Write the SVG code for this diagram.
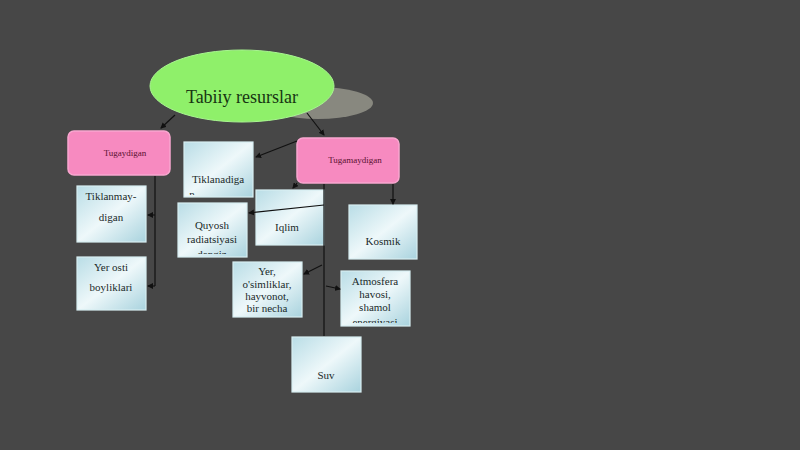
<svg xmlns="http://www.w3.org/2000/svg" width="800" height="450" viewBox="0 0 800 450">
<defs>
<linearGradient id="blue" x1="0" y1="0" x2="1" y2="1">
<stop offset="0" stop-color="#b9dde6"/>
<stop offset="0.5" stop-color="#eef8fa"/>
<stop offset="1" stop-color="#a9d3de"/>
</linearGradient>
<clipPath id="cq"><rect x="178" y="203" width="69" height="51"/></clipPath>
<clipPath id="ca"><rect x="341" y="271" width="69" height="52"/></clipPath>
<clipPath id="ct"><rect x="184" y="142" width="69" height="53"/></clipPath>
<marker id="ah" viewBox="0 0 6 6" refX="5" refY="3" markerWidth="5" markerHeight="5" orient="auto">
<path d="M0,0 L6,3 L0,6 z" fill="#111"/>
</marker>
</defs>
<style>
.bx{fill:url(#blue);stroke:#d8eef2;stroke-width:1.2}
.pk{fill:#f78ac0;stroke:#f9a6cf;stroke-width:1.5}
.t{font-family:"Liberation Serif",serif;font-size:11px;fill:#1a2a2a;text-anchor:middle}
.tp{font-family:"Liberation Serif",serif;font-size:9px;fill:#5a1030;text-anchor:middle}
.c{stroke:#111;stroke-width:1.2;fill:none}
.ca{stroke:#111;stroke-width:1.2;fill:none;marker-end:url(#ah)}
</style>
<rect width="800" height="450" fill="#474747"/>
<g id="root">
<ellipse cx="318" cy="103" rx="55" ry="16" fill="#88887f"/>
<ellipse cx="242" cy="86" rx="92" ry="36" fill="#8ff06a" stroke="#a8f590" stroke-width="1"/>
<text x="242" y="103" font-family="Liberation Serif,serif" font-size="18" fill="#173512" text-anchor="middle">Tabiiy resurslar</text>
</g>
<g id="tugaydigan"><rect class="pk" x="68" y="131" width="102" height="44" rx="6"/><text class="tp" x="125" y="156">Tugaydigan</text></g>
<g id="tugamaydigan"><rect class="pk" x="297" y="138" width="102" height="45" rx="6"/><text class="tp" x="355" y="163">Tugamaydigan</text></g>
<g id="tiklanadigan"><rect class="bx" x="184" y="142" width="69" height="55"/><g clip-path="url(#ct)"><text class="t" x="218" y="183">Tiklanadiga</text><text class="t" x="192" y="198" text-anchor="start">n</text></g></g>
<g id="tiklanmaydigan"><rect class="bx" x="77" y="186" width="69" height="56"/><text class="t" x="111" y="200">Tiklanmay-</text><text class="t" x="111" y="221">digan</text></g>
<g id="yerosti"><rect class="bx" x="77" y="257" width="69" height="53"/><text class="t" x="111" y="271">Yer osti</text><text class="t" x="111" y="291">boyliklari</text></g>
<g id="iqlim"><rect class="bx" x="256" y="190" width="68" height="55"/><text class="t" x="287" y="231">Iqlim</text></g>
<g id="quyosh"><rect class="bx" x="178" y="203" width="69" height="54"/><g clip-path="url(#cq)"><text class="t" x="212" y="229">Quyosh</text><text class="t" x="212" y="243">radiatsiyasi</text><text class="t" x="212" y="258">dengiz</text></g></g>
<g id="kosmik"><rect class="bx" x="349" y="205" width="68" height="54"/><text class="t" x="383" y="245">Kosmik</text></g>
<g id="yer"><rect class="bx" x="233" y="262" width="69" height="55"/><text class="t" x="267" y="275">Yer,</text><text class="t" x="267" y="288">o'simliklar,</text><text class="t" x="267" y="300">hayvonot,</text><text class="t" x="267" y="312">bir necha</text></g>
<g id="atmosfera"><rect class="bx" x="341" y="271" width="69" height="55"/><g clip-path="url(#ca)"><text class="t" x="375" y="285">Atmosfera</text><text class="t" x="375" y="298">havosi,</text><text class="t" x="375" y="311">shamol</text><text class="t" x="375" y="326">energiyasi</text></g></g>
<g id="suv"><rect class="bx" x="292" y="337" width="69" height="55"/><text class="t" x="326" y="379">Suv</text></g>
<g id="connectors">
<line class="ca" x1="175" y1="115" x2="161" y2="128"/>
<line class="ca" x1="307" y1="113" x2="324" y2="135"/>
<polyline class="c" points="155,176 155,286"/>
<line class="ca" x1="155" y1="215" x2="148" y2="215"/>
<line class="ca" x1="155" y1="286" x2="148" y2="286"/>
<line class="ca" x1="297" y1="141" x2="256" y2="157"/>
<line class="ca" x1="297" y1="183" x2="293" y2="188"/>
<line class="c" x1="324" y1="184" x2="324" y2="336"/>
<line class="ca" x1="393" y1="184" x2="393" y2="204"/>
<line class="ca" x1="324" y1="205" x2="249" y2="213"/>
<line class="ca" x1="322" y1="265" x2="304" y2="274"/>
<line class="ca" x1="326" y1="286" x2="340" y2="289"/>
</g>
</svg>
